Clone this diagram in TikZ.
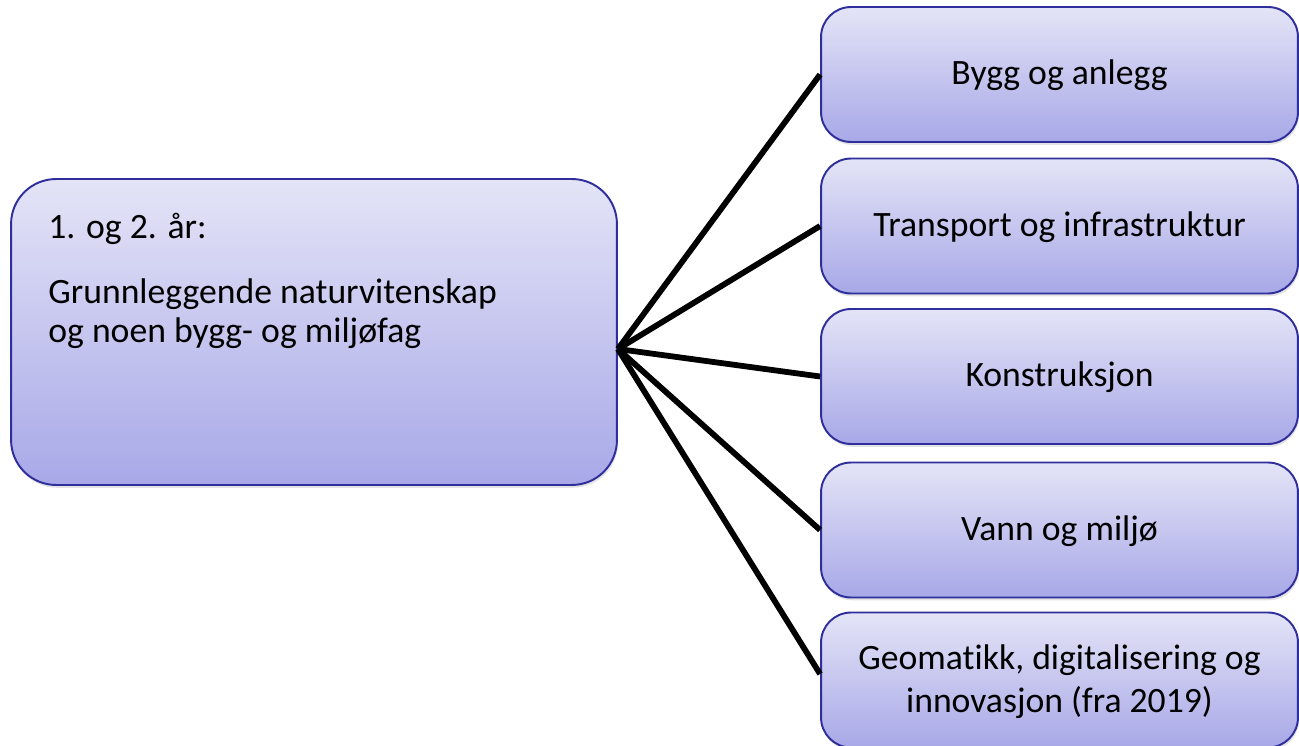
\documentclass[tikz,border=0pt]{standalone}
\usepackage{fontspec}
\setmainfont{Carlito}[Ligatures=NoCommon]
\usetikzlibrary{positioning,shadows}

\definecolor{boxtop}{HTML}{E4E4F7}
\definecolor{boxbot}{HTML}{A8A8E8}
\definecolor{boxline}{HTML}{2E2E9C}

\begin{document}
\begin{tikzpicture}[x=0.02cm,y=-0.02cm,
  box/.style = {draw=boxline, line width=1.1pt, rounded corners=0.9cm,
    top color=boxtop, bottom color=boxbot,
    drop shadow={shadow xshift=0.6pt, shadow yshift=-1.6pt, opacity=0.22}},
  leaf/.style = {box, rounded corners=0.6cm, minimum width=9.54cm,
    minimum height=2.7cm, align=center, inner sep=0pt,
    text height=14pt, text depth=2.6pt},
  link/.style = {line width=3.3pt, black},
  font=\fontsize{20.3}{22.7}\selectfont]

\useasboundingbox (0,0) rectangle (1299,746);

\node[box, minimum width=12.12cm, minimum height=6.12cm] (base) at (314,332) {};
\node[anchor=base west, align=left, inner sep=0pt] (basetext) at (48,343)
  {1. og 2. år:\\[14pt]Grunnleggende naturvitenskap\\og noen bygg- og miljøfag};

\node[leaf] (bygg) at (1059.5,74.5) {Bygg og anlegg};
\node[leaf] (transport) at (1059.5,226) {Transport og infrastruktur};
\node[leaf] (konstr) at (1059.5,376.5) {Konstruksjon};
\node[leaf] (vann) at (1059.5,530) {Vann og miljø};
\node[leaf, text height=40pt] (geo) at (1059.5,680)
  {Geomatikk, digitalisering og\\[1.7pt]innovasjon (fra 2019)};

\coordinate (hub) at ([yshift=-0.34cm]base.east);

\draw[link] (hub) -- (bygg.west);
\draw[link] (hub) -- (transport.west);
\draw[link] (hub) -- (konstr.west);
\draw[link] (hub) -- (vann.west);
\draw[link] (hub) -- ([yshift=0.12cm]geo.west);

\end{tikzpicture}
\end{document}
